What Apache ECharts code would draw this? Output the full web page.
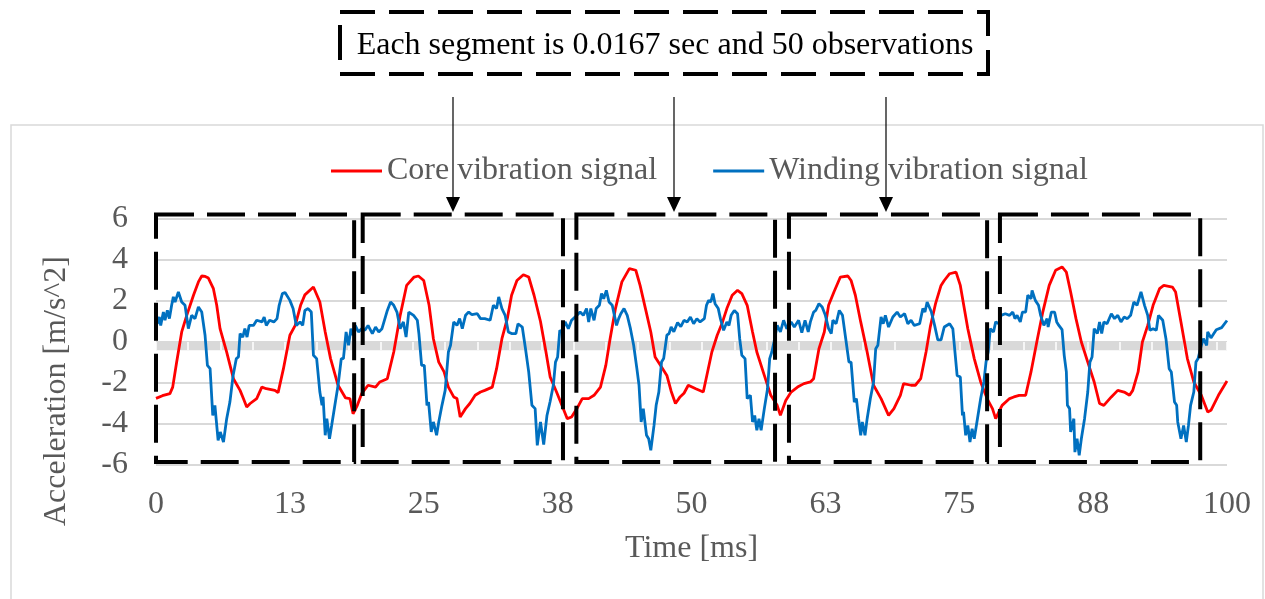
<!DOCTYPE html>
<html>
<head>
<meta charset="utf-8">
<script src="https://cdn.jsdelivr.net/npm/echarts@6/dist/echarts.min.js"></script>
<style>
  html, body { margin: 0; padding: 0; background: #fff; }
  #chart { width: 1265px; height: 599px; }
</style>
</head>
<body>
<div id="chart"></div>
<script>
// time axis in ms, values in m/s^2
const coreTime = [0, 0.6, 1.3, 1.56, 1.93, 2.4, 2.87, 3.5, 3.96, 4.27, 4.6, 4.89, 5.36, 5.67, 5.98, 6.6, 7.23, 7.85, 8.16, 8.47, 8.79, 9.4, 9.88, 10.3, 11.1, 11.4, 11.9, 12.5, 13.0, 13.5, 13.9, 14.7, 15.3, 15.8, 16.3, 17.0, 17.7, 18.1, 18.4, 18.8, 19.2, 19.8, 20.5, 20.9, 21.6, 22.2, 22.8, 23.4, 24.1, 24.5, 25.0, 25.5, 25.9, 26.4, 26.9, 27.3, 27.8, 28.1, 28.4, 28.9, 29.3, 29.8, 30.3, 30.7, 31.4, 31.8, 32.3, 32.8, 33.2, 33.7, 34.3, 34.8, 35.3, 35.9, 36.4, 36.8, 37.4, 37.9, 38.4, 38.8, 39.3, 39.8, 40.4, 40.9, 41.5, 42.0, 42.4, 42.9, 43.5, 44.2, 44.8, 45.2, 45.7, 46.2, 46.6, 47.1, 47.7, 48.1, 48.5, 48.9, 49.3, 49.7, 50.4, 51.1, 51.5, 51.9, 52.4, 52.9, 53.3, 53.8, 54.3, 54.7, 55.2, 55.7, 56.1, 56.8, 57.4, 58.0, 58.3, 58.8, 59.3, 59.9, 60.5, 61.1, 61.4, 61.9, 62.4, 62.8, 63.3, 63.9, 64.6, 64.9, 65.3, 65.8, 66.4, 67.0, 67.7, 68.4, 68.9, 69.5, 69.8, 70.5, 70.9, 71.4, 71.9, 72.3, 72.8, 73.3, 73.6, 74.1, 74.7, 75.1, 75.8, 76.4, 77.0, 77.6, 78.1, 78.4, 78.7, 79.0, 79.7, 80.1, 80.6, 81.2, 81.7, 82.3, 82.8, 83.4, 84.0, 84.6, 85.0, 85.4, 85.9, 86.4, 87.0, 87.6, 88.1, 88.5, 89.2, 89.8, 90.4, 90.9, 91.2, 91.7, 92.1, 92.6, 93.1, 93.7, 94.1, 94.9, 95.2, 95.7, 96.3, 96.9, 97.6, 98.2, 98.5, 99.2, 100];
const coreAcc = [-2.75, -2.62, -2.52, -2.2, -0.98, 0.49, 1.3, 2.28, 2.93, 3.22, 3.2, 3.12, 2.6, 1.79, 0.65, -0.49, -1.79, -2.36, -2.76, -3.17, -3.0, -2.76, -2.2, -2.28, -2.36, -2.47, -1.3, 0.33, 0.81, 1.79, 2.3, 2.68, 1.95, 0.49, -0.81, -2.11, -2.73, -2.76, -3.5, -3.09, -2.52, -2.11, -2.2, -1.95, -1.79, -0.49, 1.3, 2.76, 3.17, 3.22, 3.0, 1.79, 0.16, -0.98, -1.46, -2.2, -2.68, -2.76, -3.66, -3.25, -3.0, -2.6, -2.44, -2.36, -2.2, -1.3, 0.16, 1.14, 2.28, 3.0, 3.28, 3.17, 2.28, 1.0, -0.45, -1.7, -2.44, -3.09, -3.74, -3.66, -3.25, -2.76, -2.76, -2.6, -2.2, -1.14, 0.16, 1.63, 2.93, 3.58, 3.5, 2.76, 1.63, 0.49, -0.73, -1.14, -1.63, -2.4, -3.0, -2.7, -2.5, -2.11, -2.28, -2.44, -1.46, -0.49, 0.33, 0.98, 1.63, 2.28, 2.52, 2.36, 1.79, 0.49, -0.49, -1.63, -2.6, -3.09, -3.58, -2.85, -2.44, -2.2, -2.03, -1.95, -1.79, -0.33, 0.49, 1.79, 2.44, 3.17, 3.22, 3.0, 2.28, 0.98, -0.49, -2.11, -2.76, -3.58, -3.25, -2.6, -2.03, -2.11, -2.11, -1.79, -0.49, 0.75, 1.9, 2.76, 3.0, 3.33, 3.41, 2.76, 0.65, -0.81, -1.95, -2.76, -3.25, -3.74, -3.41, -3.09, -2.76, -2.68, -2.6, -2.6, -1.46, 0.16, 1.46, 2.76, 3.5, 3.66, 3.41, 2.44, 1.14, 0.0, -0.98, -1.95, -3.0, -3.09, -2.68, -2.36, -2.44, -2.6, -2.36, -1.46, 0.0, 0.81, 1.79, 2.6, 2.76, 2.68, 2.44, 0.98, -0.81, -1.95, -2.6, -3.41, -3.33, -2.6, -1.9];

const windTime = [0.12, 0.3, 0.44, 0.69, 0.84, 1.06, 1.25, 1.46, 1.62, 1.78, 2.09, 2.4, 2.71, 3.02, 3.33, 3.64, 3.96, 4.27, 4.58, 4.8, 5.05, 5.3, 5.5, 5.8, 6.0, 6.3, 6.6, 6.9, 7.2, 7.5, 7.7, 7.85, 8.1, 8.3, 8.5, 8.7, 9.1, 9.4, 9.9, 10.1, 10.3, 10.6, 11.0, 11.3, 11.5, 11.8, 12.05, 12.5, 12.8, 13.1, 13.45, 13.7, 13.9, 14.2, 14.5, 14.7, 15.0, 15.3, 15.5, 15.6, 15.8, 15.95, 16.2, 16.4, 16.7, 17.0, 17.3, 17.5, 17.75, 17.98, 18.2, 18.4, 18.6, 18.9, 19.2, 19.5, 19.8, 20.2, 20.5, 20.8, 21.1, 21.6, 21.9, 22.2, 22.5, 22.8, 23.1, 23.35, 23.6, 24.05, 24.4, 24.55, 24.8, 25.05, 25.3, 25.45, 25.7, 25.9, 26.2, 26.4, 26.7, 27.0, 27.3, 27.5, 27.8, 28.1, 28.35, 28.6, 28.9, 29.2, 29.5, 30.0, 30.3, 30.7, 31.2, 31.5, 31.8, 32.0, 32.3, 32.6, 32.9, 33.2, 33.6, 33.8, 34.2, 34.5, 34.8, 35.1, 35.4, 35.6, 35.9, 36.2, 36.5, 36.8, 37.1, 37.3, 37.5, 37.7, 37.9, 38.2, 38.5, 38.8, 39.3, 39.6, 39.9, 40.2, 40.4, 40.6, 40.9, 41.1, 41.4, 41.6, 41.8, 42.05, 42.3, 42.6, 42.8, 43.0, 43.2, 43.4, 43.7, 44.0, 44.3, 44.6, 44.9, 45.1, 45.3, 45.5, 45.8, 46.0, 46.2, 46.5, 46.7, 46.95, 47.2, 47.4, 47.7, 47.9, 48.1, 48.35, 48.7, 49.0, 49.3, 49.6, 49.9, 50.2, 50.5, 50.8, 51.2, 51.4, 51.6, 51.8, 52.0, 52.2, 52.5, 52.7, 53.0, 53.3, 53.5, 53.7, 54.0, 54.3, 54.5, 54.7, 55.0, 55.2, 55.5, 55.7, 55.9, 56.1, 56.3, 56.5, 56.8, 57.1, 57.3, 57.5, 57.7, 58.0, 58.3, 58.6, 58.9, 59.3, 59.6, 60.0, 60.3, 60.6, 60.9, 61.1, 61.4, 61.6, 61.9, 62.2, 62.5, 62.8, 63.05, 63.2, 63.5, 63.8, 64.1, 64.4, 64.7, 64.9, 65.2, 65.4, 65.6, 65.8, 65.95, 66.2, 66.4, 66.7, 67.0, 67.2, 67.4, 67.7, 67.9, 68.1, 68.4, 68.8, 69.2, 69.5, 69.9, 70.2, 70.5, 70.8, 71.3, 71.6, 71.8, 72.0, 72.4, 72.7, 73.0, 73.3, 73.6, 74.1, 74.4, 74.6, 74.8, 75.1, 75.3, 75.4, 75.6, 75.8, 76.0, 76.2, 76.4, 76.7, 77.0, 77.3, 77.5, 77.7, 77.9, 78.2, 78.4, 78.7, 78.9, 79.3, 79.7, 80.0, 80.2, 80.4, 80.7, 80.9, 81.2, 81.4, 81.7, 81.8, 82.1, 82.4, 82.6, 82.9, 83.2, 83.3, 83.6, 83.9, 84.1, 84.3, 84.6, 84.8, 85.0, 85.1, 85.3, 85.4, 85.7, 85.8, 86.0, 86.2, 86.4, 86.7, 87.0, 87.2, 87.4, 87.6, 87.9, 88.1, 88.3, 88.5, 88.8, 89.2, 89.5, 89.8, 90.1, 90.4, 90.7, 91.0, 91.3, 91.6, 91.97, 92.3, 92.6, 92.8, 93.1, 93.4, 93.6, 94.0, 94.3, 94.6, 94.8, 95.1, 95.3, 95.4, 95.7, 95.95, 96.2, 96.4, 96.6, 96.9, 97.1, 97.3, 97.6, 97.8, 98.1, 98.2, 98.5, 99.0, 99.5, 100];
const windAcc = [0.89, 1.22, 0.81, 1.46, 1.06, 1.54, 1.14, 1.79, 2.2, 1.95, 2.44, 1.95, 1.79, 0.65, 1.3, 1.14, 1.71, 1.46, 0.33, -1.14, -1.3, -3.58, -3.09, -4.8, -4.39, -4.88, -3.74, -2.93, -1.63, -0.81, -0.73, 0.41, 0.24, 0.65, 0.24, 0.81, 0.81, 1.06, 0.98, 1.22, 0.81, 1.06, 0.98, 1.14, 1.79, 2.36, 2.41, 2.03, 1.63, 0.81, 0.98, 0.81, 1.54, 1.63, 1.46, -0.65, -0.81, -2.44, -3.09, -2.68, -4.55, -3.74, -4.72, -4.07, -3.09, -2.11, -0.81, -0.81, 0.49, -0.16, 0.65, 0.33, 0.81, 0.49, 0.65, 0.57, 0.81, 0.41, 0.73, 0.49, 0.65, 1.54, 1.95, 1.79, 1.46, 0.65, 0.98, 0.24, 1.46, 1.3, 1.06, 0.4, -1.14, -1.14, -3.09, -2.93, -4.39, -3.9, -4.55, -3.9, -3.09, -2.36, -0.49, -0.16, 0.98, 0.81, 1.14, 0.65, 1.3, 1.46, 1.33, 1.38, 1.14, 1.14, 1.06, 1.79, 1.63, 2.2, 1.63, 1.3, 0.49, 0.41, 0.41, 0.89, 0.73, -0.33, -1.46, -3.09, -3.25, -5.04, -3.9, -5.0, -3.6, -2.9, -2.11, -0.98, -0.73, 0.57, 0.49, 0.98, 0.65, 1.06, 1.3, 1.46, 1.3, 1.63, 0.98, 1.63, 1.06, 1.63, 1.79, 2.36, 2.11, 2.52, 1.95, 1.79, 1.3, 0.81, 1.14, 1.38, 1.63, 1.3, 0.65, -0.16, -1.3, -2.11, -3.9, -3.25, -4.55, -4.72, -5.28, -4.07, -3.09, -2.44, -0.98, -0.81, 0.33, 0.41, 0.73, 0.5, 0.95, 0.75, 1.06, 0.98, 1.22, 0.89, 1.14, 0.98, 1.14, 1.79, 2.03, 1.95, 2.36, 1.87, 1.63, 1.14, 0.57, 0.98, 0.81, 1.3, 1.54, 1.38, 0.16, -0.65, -0.81, -2.76, -2.6, -3.9, -3.58, -4.31, -3.74, -4.31, -3.25, -2.28, -0.81, -0.49, 0.0, 0.81, 0.49, 1.06, 0.65, 0.98, 0.73, 1.06, 0.45, 1.06, 0.49, 0.98, 1.46, 1.54, 1.87, 1.71, 1.3, 0.65, 0.41, 1.06, 0.89, 1.54, 1.3, 0.16, -0.98, -0.98, -2.93, -2.76, -3.74, -4.55, -3.9, -4.55, -3.74, -2.76, -1.95, -0.33, -0.16, 1.22, 0.89, 1.3, 0.73, 1.22, 1.46, 1.22, 1.38, 0.89, 1.06, 0.81, 0.89, 1.63, 1.46, 1.95, 1.46, 0.81, 0.1, 0.1, 0.73, 0.89, 0.65, -0.49, -1.63, -1.71, -3.58, -3.41, -4.55, -4.07, -4.88, -4.23, -4.72, -3.74, -2.76, -1.95, -0.98, -0.49, 0.65, 0.49, 0.98, 0.89, 1.3, 1.38, 1.3, 1.46, 1.14, 1.3, 0.98, 1.46, 1.46, 2.28, 2.11, 2.52, 2.03, 1.79, 1.3, 0.81, 1.14, 0.73, 1.46, 1.46, 0.98, 0.81, 0.6, -0.65, -1.46, -3.09, -3.25, -4.39, -3.74, -5.37, -4.72, -5.53, -4.72, -3.74, -2.44, -0.98, -0.73, 0.65, 0.41, 0.98, 0.41, 0.98, 0.89, 1.38, 1.14, 1.3, 0.98, 1.22, 1.14, 1.3, 1.95, 1.79, 2.44, 1.79, 1.3, 0.57, 0.65, 0.57, 1.3, 1.06, 0.16, -1.3, -1.46, -2.93, -3.09, -3.9, -4.72, -4.07, -4.88, -4.07, -3.09, -2.44, -0.98, -0.81, -0.16, 0.16, -0.16, 0.49, 0.2, 0.6, 0.7, 1.05];

// 50-observation segments (dashed boxes), in axis units
const segStart = [0, 19.3, 39.25, 59.1, 78.8];
const segEnd = [18.5, 38.0, 57.8, 77.6, 97.5];
const segTop = 6.22;
const segBottom = -5.85;

const xTicks = [0, 12.5, 25, 37.5, 50, 62.5, 75, 87.5, 100];
const yTicks = [-6, -4, -2, 0, 2, 4, 6];

const serif = '"Liberation Serif", "Times New Roman", serif';
const grey = '#595959';

const pairs = (xs, ys) => xs.map((x, i) => [x, ys[i]]);
const boxes = segStart.map((s, i) => [s, segEnd[i], segTop, segBottom]);

function renderBox(params, api) {
    const p0 = api.coord([api.value(0), api.value(2)]);
    const p1 = api.coord([api.value(1), api.value(3)]);
    return {
        type: 'rect',
        shape: { x: p0[0], y: p0[1], width: p1[0] - p0[0], height: p1[1] - p0[1] },
        style: { fill: 'none', stroke: '#000', lineWidth: 4, lineDash: [38, 13] }
    };
}

function arrow(x) {
    return [
        { type: 'line', shape: { x1: x, y1: 97, x2: x, y2: 200 }, style: { stroke: '#000', lineWidth: 1.2 } },
        { type: 'polygon', shape: { points: [[x - 7, 197], [x + 7, 197], [x, 212]] }, style: { fill: '#000' } }
    ];
}

const chart = echarts.init(document.getElementById('chart'));
chart.setOption({
    animation: false,
    backgroundColor: '#fff',
    grid: { left: 156, right: 38, top: 219, height: 246 },
    legend: {
        left: 331,
        top: 155,
        padding: 0,
        icon: 'rect',
        itemWidth: 51,
        itemHeight: 3,
        itemGap: 56,
        textStyle: { fontFamily: serif, fontSize: 32, color: grey },
        data: ['Core vibration signal', 'Winding vibration signal']
    },
    xAxis: [
        {
            type: 'value',
            min: 0,
            max: 100,
            interval: 12.5,
            name: 'Time [ms]',
            nameLocation: 'middle',
            nameGap: 68,
            nameTextStyle: { fontFamily: serif, fontSize: 32, color: grey },
            axisLine: { show: false, onZero: false },
            axisTick: { show: false },
            splitLine: { show: false },
            axisLabel: {
                margin: 24,
                fontFamily: serif,
                fontSize: 32,
                color: grey,
                formatter: v => xTicks.indexOf(v) >= 0 ? String(Math.round(v)) : ''
            }
        },
        {
            // white tick marks cut into the zero band
            type: 'value',
            min: 0,
            max: 100,
            interval: 3,
            position: 'bottom',
            z: 1.5,
            axisLine: { show: false, onZero: true },
            axisTick: { show: true, length: 8, lineStyle: { color: '#fff', width: 1.5 } },
            axisLabel: { show: false },
            splitLine: { show: false }
        }
    ],
    yAxis: {
        type: 'value',
        min: yTicks[0],
        max: yTicks[yTicks.length - 1],
        interval: 2,
        axisLine: { show: false },
        axisTick: { show: false },
        splitLine: { lineStyle: { color: '#d9d9d9', width: 2 } },
        axisLabel: { margin: 28, fontFamily: serif, fontSize: 32, color: grey }
    },
    series: [
        {
            name: 'Core vibration signal',
            type: 'line',
            symbol: 'none',
            z: 2,
            lineStyle: { color: '#ff0000', width: 2.8 },
            itemStyle: { color: '#ff0000' },
            data: pairs(coreTime, coreAcc),
            markArea: {
                silent: true,
                z: 1,
                itemStyle: { color: '#d9d9d9' },
                label: { show: false },
                data: [[{ coord: [0, 0] }, { coord: [100, -0.4] }]]
            }
        },
        {
            name: 'Winding vibration signal',
            type: 'line',
            symbol: 'none',
            z: 2,
            lineStyle: { color: '#0070c0', width: 2.8 },
            itemStyle: { color: '#0070c0' },
            data: pairs(windTime, windAcc)
        },
        {
            name: 'segments',
            type: 'custom',
            z: 3,
            clip: false,
            silent: true,
            renderItem: renderBox,
            encode: { x: [0, 1], y: [2, 3] },
            data: boxes
        }
    ],
    graphic: [
        {
            type: 'rect',
            shape: { x: 11, y: 125, width: 1252, height: 500 },
            style: { fill: 'none', stroke: '#d9d9d9', lineWidth: 1.5 },
            silent: true
        },
        {
            type: 'text',
            x: 57,
            y: 391,
            rotation: Math.PI / 2,
            style: {
                text: 'Acceleration [m/s^2]',
                fontFamily: serif,
                fontSize: 32,
                fill: grey,
                align: 'center',
                verticalAlign: 'middle'
            }
        },
        {
            type: 'rect',
            shape: { x: 340, y: 12, width: 648, height: 62 },
            style: { fill: '#fff', stroke: '#000', lineWidth: 4, lineDash: [35, 14] }
        },
        {
            type: 'text',
            x: 665,
            y: 46,
            style: {
                text: 'Each segment is 0.0167 sec and 50 observations',
                fontFamily: serif,
                fontSize: 32,
                fill: '#000',
                align: 'center',
                verticalAlign: 'middle'
            }
        },
        ...arrow(453),
        ...arrow(674),
        ...arrow(886)
    ]
});
</script>
</body>
</html>
